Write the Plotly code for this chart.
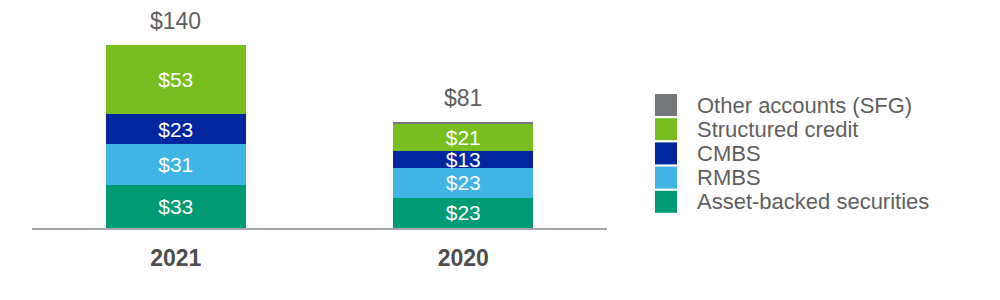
import plotly.graph_objects as go

years = ["2021", "2020"]
series_names = ["Asset-backed securities", "RMBS", "CMBS", "Structured credit", "Other accounts (SFG)"]
abs_vals = [33, 23]
rmbs_vals = [31, 23]
cmbs_vals = [23, 13]
sc_vals = [53, 21]
other_vals = [0, 1]
totals = [140, 81]
colors = ["#009B72", "#41B4E6", "#0127A0", "#78BE20", "#75787B"]

series_vals = [abs_vals, rmbs_vals, cmbs_vals, sc_vals, other_vals]

FONT = "Liberation Sans, Arial, sans-serif"
W, H = 1000, 300
L, R, T, B = 32, 393, 10, 72
PW, PH = W - L - R, H - T - B

fig = go.Figure()
for name, vals, col in zip(series_names, series_vals, colors):
    show_text = name != "Other accounts (SFG)"
    fig.add_trace(go.Bar(
        x=years, y=vals, name=name,
        marker=dict(color=col, line=dict(width=0)),
        text=[f"${v}" for v in vals] if show_text else None,
        textposition="inside" if show_text else "none",
        insidetextanchor="middle",
        textangle=0,
        constraintext="none",
        textfont=dict(family=FONT, size=21, color="white"),
        showlegend=False,
        hoverinfo="skip",
    ))

for i, tot in enumerate(totals):
    fig.add_annotation(x=i, y=tot, xref="x", yref="y", text=f"${tot}",
                       showarrow=False, yanchor="bottom", yshift=9,
                       font=dict(family=FONT, size=23, color="#5F5F5F"))

def px_x(p):
    return (p - L) / PW

def px_y(p):
    return (H - B - p) / PH

# legend (top to bottom: reverse order of stacking)
leg_top = 105
leg_step = 24.2
for i, (name, col) in enumerate(zip(series_names[::-1], colors[::-1])):
    cy = leg_top + i * leg_step
    fig.add_shape(type="rect", xref="paper", yref="paper",
                  x0=px_x(655), x1=px_x(677), y0=px_y(cy + 11), y1=px_y(cy - 11),
                  fillcolor=col, line=dict(width=0))
    fig.add_annotation(xref="paper", yref="paper", x=px_x(695), y=px_y(cy),
                       text=name, showarrow=False, xanchor="left", yanchor="middle",
                       font=dict(family=FONT, size=22, color="#5F5F5F"))

fig.update_layout(
    width=W, height=H,
    margin=dict(l=L, r=R, t=T, b=B),
    barmode="stack",
    bargap=0.513,
    plot_bgcolor="white",
    paper_bgcolor="white",
    showlegend=False,
    font=dict(family=FONT),
    xaxis=dict(type="category", categoryorder="array", categoryarray=years,
               range=[-0.5, 1.5], showline=True, linecolor="#A6A6A6", linewidth=2,
               ticks="outside", ticklen=8, tickcolor="rgba(0,0,0,0)",
               tickfont=dict(family=FONT, size=23, color="#4D4D4D", weight="bold"),
               showgrid=False, zeroline=False, fixedrange=True),
    yaxis=dict(range=[0, 166.8], visible=False, showgrid=False, zeroline=False,
               fixedrange=True),
)

fig.write_html("out.html")
